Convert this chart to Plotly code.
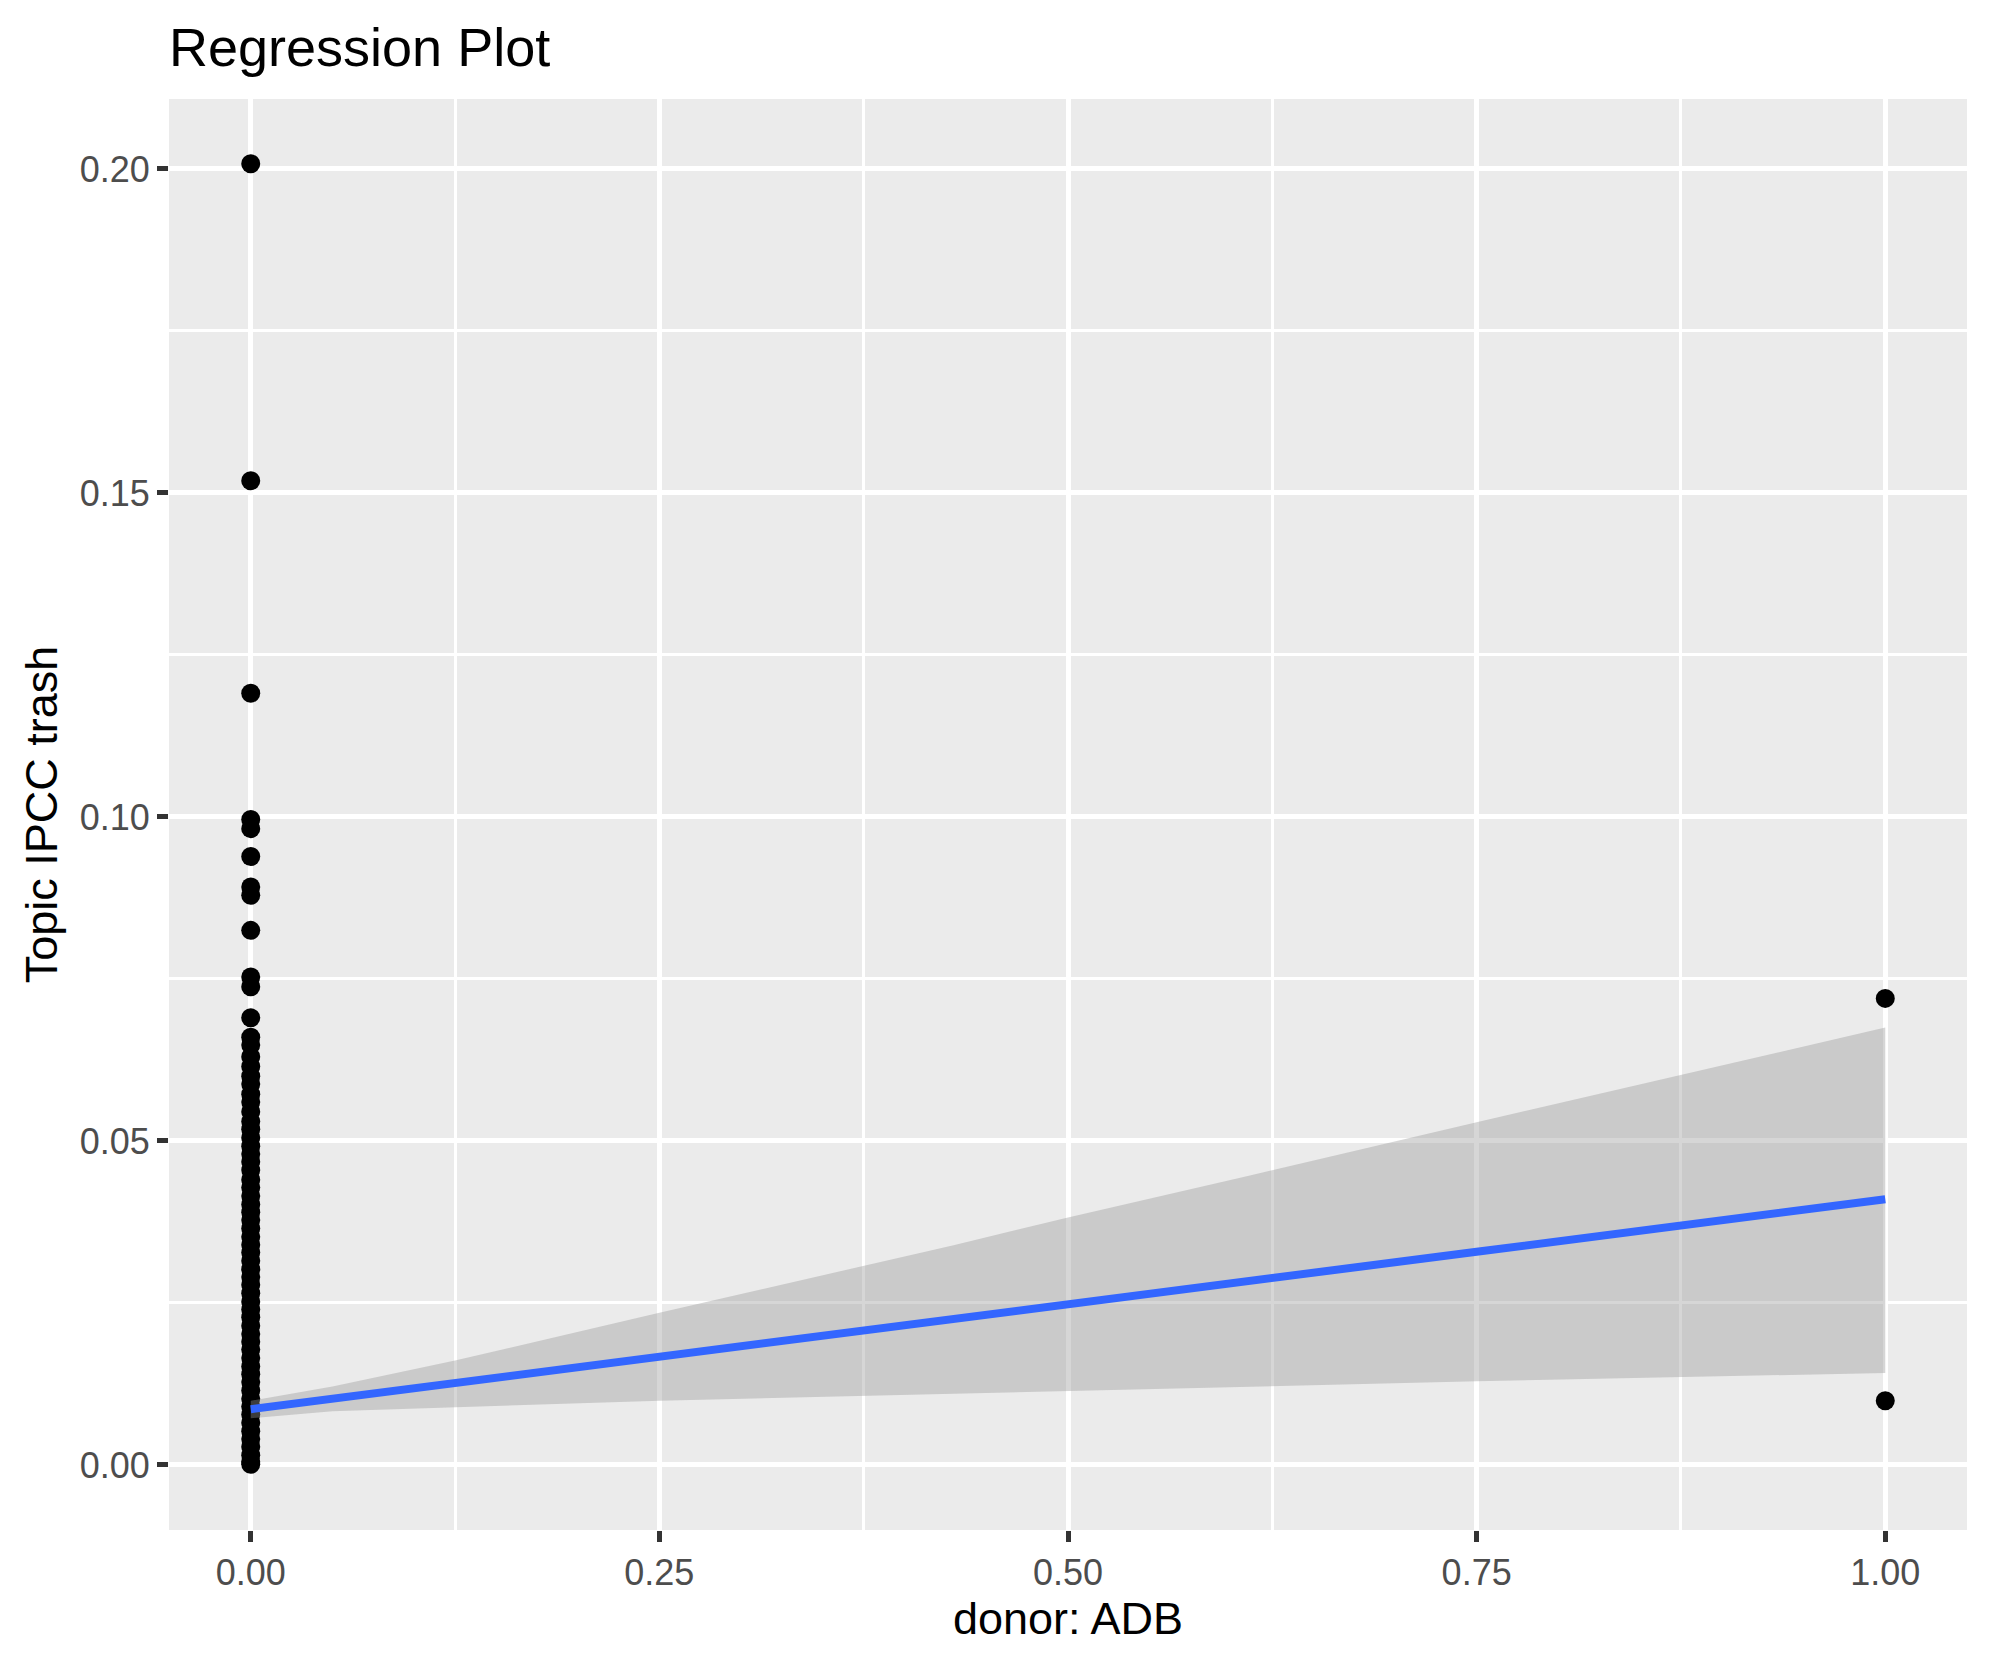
import plotly.graph_objects as go

# ---- data ----
topic_at_donor0 = [
    0.2008, 0.1519, 0.1191, 0.0996, 0.0982, 0.0939, 0.0892, 0.0879, 0.0825,
    0.0753, 0.0738, 0.0690, 0.0660, 0.0648, 0.0630, 0.0615, 0.0600, 0.0588,
    0.0572, 0.0560, 0.0545, 0.0530, 0.0518, 0.0505, 0.0492, 0.0480, 0.0468,
    0.0455, 0.0440, 0.0428, 0.0415, 0.0402, 0.0390, 0.0378, 0.0365, 0.0352,
    0.0340, 0.0328, 0.0315, 0.0302, 0.0290, 0.0278, 0.0265, 0.0252, 0.0240,
    0.0228, 0.0215, 0.0202, 0.0190, 0.0178, 0.0165, 0.0152, 0.0140, 0.0128,
    0.0115, 0.0102, 0.0090, 0.0078, 0.0065, 0.0052, 0.0040, 0.0028, 0.0015,
    0.0005, 0.0001,
]
topic_at_donor1 = [0.0720, 0.0099]

fit_x = [0.0, 0.05, 0.125, 0.17, 0.25, 0.43, 0.50, 0.61, 0.75, 1.0]
fit_y = [0.0086, 0.0102, 0.0126, 0.0141, 0.0167, 0.0225, 0.0248, 0.0283, 0.0329, 0.0410]
fit_upper = [0.0099, 0.0121, 0.0161, 0.0188, 0.0235, 0.0339, 0.0382, 0.0446, 0.0529, 0.0675]
fit_lower = [0.0072, 0.0083, 0.0089, 0.0093, 0.0099, 0.0110, 0.0114, 0.0121, 0.0129, 0.0142]

y_ticks = [0.00, 0.05, 0.10, 0.15, 0.20]
x_ticks = [0.00, 0.25, 0.50, 0.75, 1.00]

donor_x = [0] * len(topic_at_donor0) + [1] * len(topic_at_donor1)
topic_y = topic_at_donor0 + topic_at_donor1

FONT = "Liberation Sans, Arial, Helvetica, sans-serif"

fig = go.Figure()
fig.add_trace(go.Scatter(
    x=donor_x, y=topic_y, mode="markers",
    marker=dict(color="black", size=19, line=dict(width=0)),
    showlegend=False, hoverinfo="x+y",
))
fig.add_trace(go.Scatter(
    x=fit_x + fit_x[::-1], y=fit_upper + fit_lower[::-1],
    fill="toself", fillcolor="rgba(153,153,153,0.4)",
    line=dict(width=0), mode="lines", showlegend=False, hoverinfo="skip",
))
fig.add_trace(go.Scatter(
    x=fit_x, y=fit_y, mode="lines",
    line=dict(color="#3366FF", width=8), showlegend=False,
))

axis_common = dict(
    showgrid=True, gridcolor="white", gridwidth=5,
    zeroline=False, showline=False,
    ticks="outside", ticklen=11, tickwidth=5, tickcolor="#333333",
    tickfont=dict(family=FONT, size=36, color="#4D4D4D"),
)

fig.update_layout(
    width=1990, height=1665,
    margin=dict(l=169, r=23, t=99, b=135),
    paper_bgcolor="white", plot_bgcolor="#EBEBEB",
    font=dict(family=FONT, color="black"),
    title=dict(text="Regression Plot", font=dict(family=FONT, size=54, color="black"),
               xref="container", x=169 / 1990, xanchor="left",
               yref="container", y=1 - 47 / 1665, yanchor="middle"),
    xaxis=dict(
        range=[-0.05, 1.05], tickvals=x_ticks,
        ticktext=[f"{v:.2f}" for v in x_ticks],
        title=dict(text="donor: ADB", font=dict(family=FONT, size=45, color="black"), standoff=10),
        minor=dict(dtick=0.125, tick0=0, showgrid=True, gridcolor="white", gridwidth=2.5, ticks=""),
        **axis_common,
    ),
    yaxis=dict(
        range=[-0.01004, 0.2108], tickvals=y_ticks,
        ticktext=[f"{v:.2f}" for v in y_ticks],
        title=dict(text="Topic IPCC trash", font=dict(family=FONT, size=45, color="black"), standoff=7),
        minor=dict(dtick=0.025, tick0=0, showgrid=True, gridcolor="white", gridwidth=2.5, ticks=""),
        **axis_common,
    ),
)

fig.write_html("out.html", config={"displayModeBar": False},
               post_script="document.body.style.margin='0px';")
